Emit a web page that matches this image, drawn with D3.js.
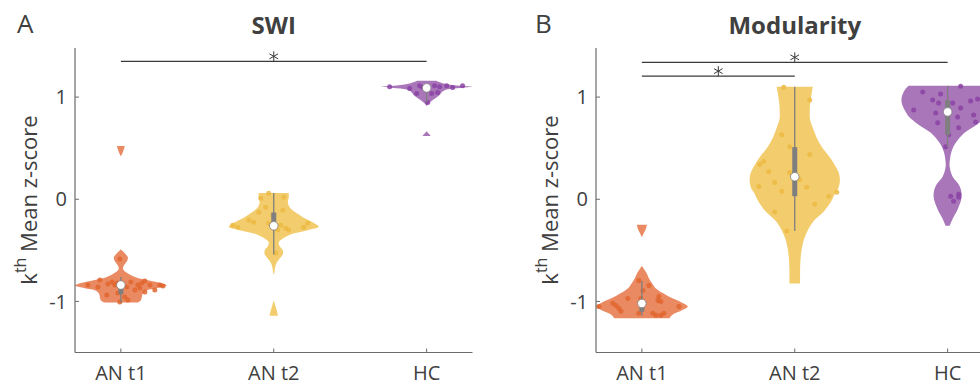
<!DOCTYPE html>
<html>
<head>
<meta charset="utf-8">
<script src="https://cdn.jsdelivr.net/npm/d3@7"></script>
<style>
  body { margin: 0; background: #fff; }
  svg text { font-family: "Open Sans", sans-serif; fill: #404040; }
</style>
</head>
<body>
<svg id="chart" width="980" height="386"></svg>
<script>
const categories = ["AN t1", "AN t2", "HC"];
const yTicks = [-1, 0, 1];
const fills = ["#ea8a62", "#f3cd6d", "#a876b9"];
const dots = ["#e0652f", "#ecb843", "#8b43a5"];

// violin outlines: [value, half width in category units], null = gap
const swiProfiles = [
  [[0.52, 0.026], [0.49, 0.02], [0.45, 0.01], [0.42, 0], null,
   [-0.49, 0], [-0.51, 0.013], [-0.54, 0.033], [-0.57, 0.046], [-0.60, 0.042], [-0.63, 0.029],
   [-0.66, 0.016], [-0.69, 0.016], [-0.72, 0.039], [-0.76, 0.092], [-0.79, 0.17], [-0.82, 0.26],
   [-0.845, 0.30], [-0.87, 0.235], [-0.89, 0.17], [-0.92, 0.144], [-0.96, 0.137], [-0.99, 0.13], [-1.01, 0.11]],
  [[0.06, 0.098], [0.02, 0.098], [-0.03, 0.092], [-0.08, 0.105], [-0.13, 0.144], [-0.18, 0.196],
   [-0.23, 0.26], [-0.27, 0.294], [-0.30, 0.229], [-0.34, 0.118], [-0.38, 0.065], [-0.42, 0.033],
   [-0.46, 0.039], [-0.50, 0.059], [-0.54, 0.059], [-0.58, 0.039], [-0.62, 0.02], [-0.66, 0.01],
   [-0.71, 0.005], [-0.74, 0], null, [-0.99, 0], [-1.03, 0.008], [-1.08, 0.018], [-1.14, 0.028]],
  [[1.16, 0.06], [1.13, 0.12], [1.11, 0.22], [1.10, 0.30], [1.09, 0.22], [1.075, 0.13], [1.05, 0.1],
   [1.02, 0.085], [0.99, 0.06], [0.96, 0.03], [0.93, 0.008], [0.91, 0], null,
   [0.665, 0], [0.65, 0.008], [0.635, 0.018], [0.62, 0.026]]
];
const modProfiles = [
  [[-0.25, 0.033], [-0.29, 0.026], [-0.33, 0.013], [-0.37, 0], null,
   [-0.65, 0], [-0.67, 0.008], [-0.72, 0.03], [-0.77, 0.045], [-0.82, 0.065], [-0.87, 0.09],
   [-0.92, 0.14], [-0.97, 0.2], [-1.01, 0.26], [-1.05, 0.30], [-1.09, 0.26], [-1.13, 0.2], [-1.165, 0.18]],
  [[1.10, 0.118], [1.04, 0.111], [0.98, 0.105], [0.92, 0.1], [0.85, 0.098], [0.78, 0.1], [0.70, 0.118],
   [0.60, 0.144], [0.50, 0.183], [0.40, 0.235], [0.30, 0.275], [0.22, 0.294], [0.12, 0.288],
   [0.05, 0.261], [-0.03, 0.235], [-0.12, 0.19], [-0.22, 0.12], [-0.32, 0.08], [-0.42, 0.055],
   [-0.55, 0.04], [-0.70, 0.035], [-0.825, 0.035]],
  [[1.11, 0.255], [1.07, 0.28], [1.0, 0.30], [0.94, 0.30], [0.87, 0.28], [0.81, 0.255], [0.73, 0.19],
   [0.65, 0.11], [0.55, 0.052], [0.47, 0.026], [0.40, 0.016], [0.32, 0.013], [0.22, 0.033],
   [0.13, 0.078], [0.03, 0.092], [-0.10, 0.065], [-0.19, 0.033], [-0.26, 0.013]]
];

// scatter points: [x offset in category units, value]
const swiPoints = [
  [[-0.059, -0.81], [-0.039, -0.839], [-0.026, -0.82], [-0.085, -0.83], [0.111, -0.839], [0.137, -0.82],
   [0.124, -0.868], [0.157, -0.80], [0.19, -0.839], [0.255, -0.839], [0.275, -0.849], [-0.092, -0.937],
   [0.026, -0.956], [0.046, -0.985], [-0.007, -1.005], [0.092, -0.888], [-0.216, -0.839], [-0.15, -0.859],
   [0.065, -0.81], [-0.007, -0.585], [-0.02, -0.917], [0.157, -0.907], [-0.137, -0.79], [0.222, -0.888],
   [0.039, -0.859]],
  [[-0.033, 0.059], [-0.085, 0.01], [0.065, 0.02], [-0.098, -0.127], [-0.163, -0.205], [-0.131, -0.224],
   [-0.235, -0.273], [-0.268, -0.254], [0.046, -0.254], [0.078, -0.283], [0.098, -0.302], [0.222, -0.234],
   [0.196, -0.273], [0.026, -0.302], [-0.033, -0.234], [-0.007, -0.156], [0.013, -0.527], [0.059, -0.107],
   [-0.052, -0.078]],
  [[-0.242, 1.102], [-0.111, 1.083], [-0.046, 1.112], [0.052, 1.112], [0.085, 1.102], [0.131, 1.112],
   [0.235, 1.112], [0.007, 0.946], [0.072, 1.044], [0.033, 1.034], [-0.065, 1.034], [-0.026, 1.093],
   [0.17, 1.093]]
];
const modPoints = [
  [[-0.02, -0.796], [-0.281, -1.049], [-0.19, -1.019], [-0.17, -1.039], [-0.15, -1.068], [-0.137, -1.097],
   [-0.092, -0.971], [0.111, -0.951], [0.105, -0.99], [0.124, -1.0], [0.072, -1.117], [0.092, -1.136],
   [0.124, -1.136], [0.144, -1.117], [0.242, -1.049], [-0.02, -1.117], [0.007, -0.893], [0.046, -0.845],
   [-0.007, -0.971]],
  [[-0.072, 1.097], [0.098, 0.971], [-0.085, 0.631], [-0.033, 0.515], [0.098, 0.437], [-0.203, 0.369],
   [-0.229, 0.34], [-0.17, 0.272], [-0.033, 0.262], [-0.131, 0.165], [-0.235, 0.126], [-0.085, 0.078],
   [0.078, 0.117], [0.033, 0.194], [0.275, 0.068], [0.222, 0.029], [0.131, -0.049], [-0.131, -0.126],
   [-0.052, -0.311]],
  [[0.085, 1.107], [-0.046, 1.029], [-0.098, 0.971], [-0.059, 0.942], [-0.222, 0.874], [-0.078, 0.845],
   [0.033, 0.942], [0.085, 0.893], [0.15, 0.961], [0.196, 0.981], [0.065, 0.806], [0.17, 0.825],
   [-0.065, 0.748], [0.183, 0.757], [0.072, 0.699], [0.007, 0.631], [-0.013, 0.515], [0.02, 0.029],
   [0.072, 0.049], [0.072, 0.019], [0.039, -0.019], [-0.163, 1.049]]
];

// box stats: [whisker low, q1, median, q3, whisker high]
const swiBoxes = [
  [-1.01, -0.93, -0.84, -0.83, -0.76],
  [-0.54, -0.28, -0.26, -0.13, 0.06],
  [0.95, 1.05, 1.09, 1.11, 1.12]
];
const modBoxes = [
  [-1.14, -1.10, -1.02, -0.99, -0.80],
  [-0.31, 0.03, 0.22, 0.51, 1.10],
  [0.51, 0.63, 0.855, 0.97, 1.11]
];

// significance bars: [from group, to group, height]
const swiSig = [[1, 3, 1.35]];
const modSig = [[1, 3, 1.34], [1, 2, 1.205]];

const svg = d3.select("#chart");
const axisColor = "#6b6b6b";

function drawPanel(opt) {
  const x = d3.scaleLinear().domain([0.7, 3.3]).range([opt.left, opt.left + 397.5]);
  const y = d3.scaleLinear().domain([-1.5, 1.5]).range([352.5, 46]);
  const g = svg.append("g");

  // violins
  opt.profiles.forEach((prof, i) => {
    const c = i + 1;
    const area = d3.area()
      .defined(d => d !== null)
      .y(d => y(d[0]))
      .x0(d => x(c - d[1]))
      .x1(d => x(c + d[1]))
      .curve(d3.curveCatmullRom);
    g.append("path").attr("d", area(prof)).attr("fill", fills[i]);
  });

  // scatter
  opt.points.forEach((pts, i) => {
    g.selectAll(null).data(pts).enter().append("circle")
      .attr("cx", d => x(i + 1 + d[0]))
      .attr("cy", d => y(d[1]))
      .attr("r", 2.5)
      .attr("fill", dots[i])
      .attr("fill-opacity", 0.85);
  });

  // boxes
  opt.boxes.forEach((b, i) => {
    const cx = x(i + 1);
    g.append("line").attr("x1", cx).attr("x2", cx).attr("y1", y(b[0])).attr("y2", y(b[4]))
      .attr("stroke", "#7f7f7f").attr("stroke-width", 1.3);
    g.append("line").attr("x1", cx).attr("x2", cx).attr("y1", y(b[1])).attr("y2", y(b[3]))
      .attr("stroke", "#7f7f7f").attr("stroke-width", 5);
    g.append("circle").attr("cx", cx).attr("cy", y(b[2])).attr("r", 4.3)
      .attr("fill", "#fff").attr("stroke", "#7f7f7f").attr("stroke-width", 0.8);
  });

  // axes
  g.append("line").attr("x1", opt.left).attr("x2", opt.left).attr("y1", y(1.5) + 2).attr("y2", y(-1.5))
    .attr("stroke", axisColor).attr("stroke-width", 1.2);
  g.append("line").attr("x1", opt.left).attr("x2", x(3.3)).attr("y1", y(-1.5)).attr("y2", y(-1.5))
    .attr("stroke", axisColor).attr("stroke-width", 1.2);
  yTicks.forEach(t => {
    g.append("line").attr("x1", opt.left).attr("x2", opt.left + 4).attr("y1", y(t)).attr("y2", y(t))
      .attr("stroke", axisColor);
    g.append("text").attr("x", opt.left - 8).attr("y", y(t)).attr("dy", "0.36em")
      .attr("text-anchor", "end").attr("font-size", 20).text(t);
  });
  categories.forEach((c, i) => {
    g.append("line").attr("x1", x(i + 1)).attr("x2", x(i + 1)).attr("y1", y(-1.5)).attr("y2", y(-1.5) - 4)
      .attr("stroke", axisColor);
    g.append("text").attr("x", x(i + 1)).attr("y", 380)
      .attr("text-anchor", "middle").attr("font-size", 20).text(c);
  });

  // significance
  opt.sig.forEach(s => {
    g.append("line").attr("x1", x(s[0])).attr("x2", x(s[1])).attr("y1", y(s[2])).attr("y2", y(s[2]))
      .attr("stroke", "#3a3a3a").attr("stroke-width", 1.4);
    g.append("path").attr("d", d3.symbol(d3.symbolAsterisk, 70)())
      .attr("transform", `translate(${x((s[0] + s[1]) / 2)},${y(s[2]) - 5})`)
      .attr("fill", "none").attr("stroke", "#3a3a3a").attr("stroke-width", 1);
  });

  // labels
  g.append("text").attr("x", opt.letterX).attr("y", 33).attr("font-size", 26).text(opt.letter);
  g.append("text").attr("x", x(2)).attr("y", 34).attr("text-anchor", "middle")
    .attr("font-size", 24).attr("font-weight", "bold").text(opt.title);
  const yl = g.append("text").attr("transform", `translate(${opt.labelX},200) rotate(-90)`)
    .attr("text-anchor", "middle").attr("font-size", 22);
  yl.append("tspan").text("k");
  yl.append("tspan").attr("font-size", 16).attr("dy", "-0.7em").text("th");
  yl.append("tspan").attr("dy", "0.5em").text(" Mean z-score");
}

drawPanel({ left: 75, letter: "A", letterX: 17, title: "SWI", labelX: 37,
  profiles: swiProfiles, points: swiPoints, boxes: swiBoxes, sig: swiSig });
drawPanel({ left: 596, letter: "B", letterX: 535, title: "Modularity", labelX: 558,
  profiles: modProfiles, points: modPoints, boxes: modBoxes, sig: modSig });
</script>
</body>
</html>
